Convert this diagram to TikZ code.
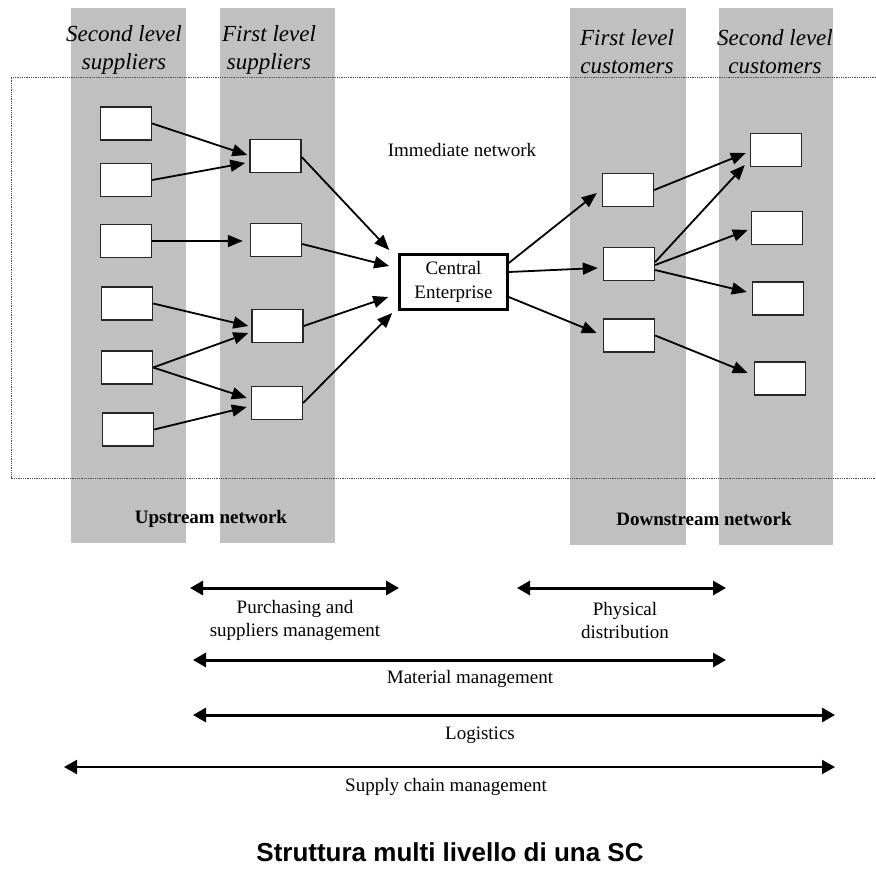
\documentclass[tikz,border=0pt]{standalone}
\usepackage{fontspec}
\setmainfont{Liberation Serif}
\setsansfont{Liberation Sans}
\usetikzlibrary{arrows.meta}
\definecolor{bandgray}{RGB}{192,192,192}
\begin{document}
\begin{tikzpicture}[x=1pt,y=-1pt,
  band/.style={fill=bandgray,draw=none},
  unit/.style={draw=black!85,line width=1.4pt,fill=white,minimum width=51pt,minimum height=33pt,inner sep=0pt},
  core/.style={draw=black,line width=2.6pt,fill=white,minimum width=108pt,minimum height=55pt,inner sep=0pt,align=center,font=\fontsize{19}{24}\selectfont},
  flow/.style={line width=1.8pt,-{Triangle[length=15pt,width=12pt]}},
  span/.style={line width=3pt,{Triangle[length=13pt,width=14pt]}-{Triangle[length=13pt,width=14pt]}},
  head/.style={align=center,font=\fontsize{23}{28}\selectfont\itshape,inner sep=0pt},
  lbl/.style={align=center,font=\fontsize{19}{23}\selectfont,inner sep=0pt},
]
\useasboundingbox (0,0) rectangle (876,868);

% tier columns
\fill[band] (71,8) rectangle (186,543);
\fill[band] (220,8) rectangle (335,543);
\fill[band] (570,8) rectangle (686,545);
\fill[band] (719,8) rectangle (833,545);

% immediate network frame
\draw[black!70,line width=0.8pt,densely dotted] (876,77) -- (11,77) -- (11,478) -- (876,478);

% column headings
\node[head] (h1) at (124,50) {Second level\\suppliers};
\node[head] (h2) at (269,50) {First level\\suppliers};
\node[head] (h3) at (627,52) {First level\\customers};
\node[head] (h4) at (775,52) {Second level\\customers};

\node[lbl] (imm) at (462,150) {Immediate network};

% second level suppliers
\node[unit] (s1) at (126,123.5) {};
\node[unit] (s2) at (126,180) {};
\node[unit] (s3) at (126,241) {};
\node[unit] (s4) at (127,303.5) {};
\node[unit] (s5) at (127,367.5) {};
\node[unit] (s6) at (128,429.5) {};

% first level suppliers
\node[unit] (f1) at (275.5,156) {};
\node[unit] (f2) at (276,240) {};
\node[unit] (f3) at (277.5,326) {};
\node[unit] (f4) at (277,403) {};

% central enterprise
\node[core] (ce) at (453.5,282) {Central\\Enterprise};

% first level customers
\node[unit] (c1) at (628,190) {};
\node[unit] (c2) at (629,264) {};
\node[unit] (c3) at (629,335.5) {};

% second level customers
\node[unit] (d1) at (776,150) {};
\node[unit] (d2) at (777,228) {};
\node[unit] (d3) at (778,298.5) {};
\node[unit] (d4) at (780,378.5) {};

% upstream flows
\draw[flow] (s1.east) -- ([xshift=-2pt,yshift=1pt]f1.west);
\draw[flow] (s2.east) -- ([xshift=-4pt,yshift=-7pt]f1.west);
\draw[flow] (s3.east) -- ([xshift=-7pt]f2.west |- s3.east);
\draw[flow] (s4.east) -- ([xshift=-3pt]f3.west);
\draw[flow] (s5.east) -- ([xshift=-3pt,yshift=-7pt]f3.west);
\draw[flow] (s5.east) -- ([xshift=-4pt,yshift=5pt]f4.west);
\draw[flow] (s6.east) -- ([xshift=-4pt,yshift=-4pt]f4.west);

\draw[flow] ([yshift=-1pt]f1.east) -- ([xshift=-9pt,yshift=32pt]ce.west);
\draw[flow] ([yshift=-4pt]f2.east) -- ([xshift=-9pt,yshift=16pt]ce.west);
\draw[flow] (f3.east) -- ([xshift=-10pt,yshift=-15pt]ce.west);
\draw[flow] (f4.east) -- ([xshift=-6pt,yshift=-31pt]ce.west);

% downstream flows
\draw[flow] ([yshift=19pt]ce.east) -- ([xshift=-5pt,yshift=-3pt]c1.west);
\draw[flow] ([yshift=10pt]ce.east) -- ([xshift=-5pt,yshift=-4pt]c2.west);
\draw[flow] ([yshift=-15pt]ce.east) -- ([xshift=-6pt,yshift=2.5pt]c3.west);

\draw[flow] (c1.east) -- ([xshift=-4pt,yshift=-3pt]d1.west);
\draw[flow] ([yshift=2pt]c2.east) -- ([xshift=-5pt,yshift=-15pt]d1.west);
\draw[flow] ([yshift=-1pt]c2.east) -- ([xshift=-3pt,yshift=-2pt]d2.west);
\draw[flow] ([yshift=-6pt]c2.east) -- ([xshift=-5pt,yshift=6.5pt]d3.west);
\draw[flow] (c3.east) -- ([xshift=-6pt,yshift=5.5pt]d4.west);

% network labels
\node[lbl,font=\fontsize{19}{23}\selectfont\bfseries] (up) at (211,519) {Upstream network};
\node[lbl,font=\fontsize{19}{23}\selectfont\bfseries] (down) at (704,519) {Downstream network};

% management spans
\coordinate (pa) at (190,588);  \coordinate (pb) at (399,588);
\coordinate (da) at (517,588);  \coordinate (db) at (726,588);
\coordinate (ma) at (193,660);  \coordinate (mb) at (726,660);
\coordinate (la) at (193,715);  \coordinate (lb) at (835,715);
\coordinate (sa) at (64,767);   \coordinate (sb) at (835,767);

\draw[span] (pa) -- (pb);
\draw[span] (da) -- (db);
\draw[span] (ma) -- (mb);
\draw[span] (la) -- (lb);
\draw[span,line width=2pt] (sa) -- (sb);

\node[lbl] (pur) at (295,620) {Purchasing and\\suppliers management};
\node[lbl] (phy) at (625,620) {Physical\\distribution};
\node[lbl] (mat) at (470,679) {Material management};
\node[lbl] (log) at (480,735) {Logistics};
\node[lbl] (scm) at (446,787) {Supply chain management};

% title
\node[inner sep=0pt,font=\fontsize{26}{30}\selectfont\sffamily\bfseries] (title) at (450,852) {Struttura multi livello di una SC};
\end{tikzpicture}
\end{document}
